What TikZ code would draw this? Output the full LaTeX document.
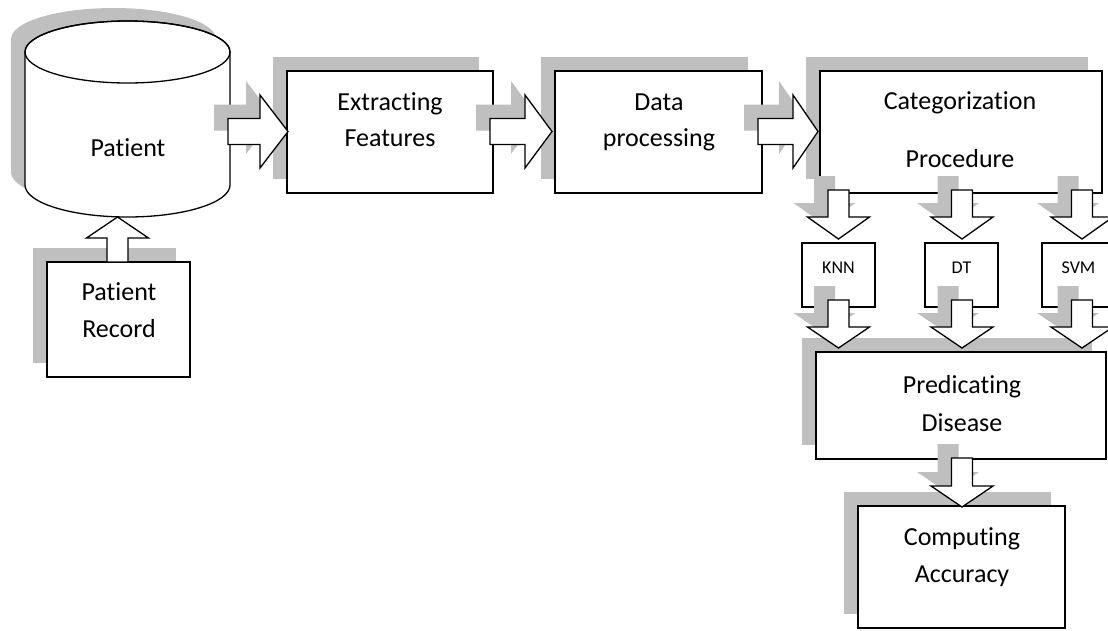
\documentclass[tikz,border=0pt]{standalone}
\usepackage{fontspec}
\setmainfont[Ligatures={NoCommon,NoContextual}]{Carlito}
\usetikzlibrary{shadows}
\newcommand\tI{t\kern0pt i}
\tikzset{
 shadowc/.style={fill=black!25},
 boxs/.style={draw, line width=1.3pt, fill=white, inner sep=0pt, outer sep=0pt, anchor=north west,
   drop shadow={shadow xshift=-14pt, shadow yshift=14pt, fill=black!25, opacity=1}},
 sbox/.style={draw, line width=1.3pt, fill=white, inner sep=0pt, outer sep=0pt, anchor=north west},
 lbl/.style={anchor=base, inner sep=0pt, font=\fontsize{26}{30}\selectfont},
 slbl/.style={anchor=base, inner sep=0pt, font=\fontsize{18}{22}\selectfont},
 arrbody/.style={draw, line width=1.3pt, fill=white, line join=miter},
}
% horizontal block arrow: start x, head base x, tip x, centre y
\newcommand\RArrPath[4]{(#1,#4-13) -- (#2,#4-13) -- (#2,#4-36.5) -- (#3,#4) -- (#2,#4+36.5) -- (#2,#4+13) -- (#1,#4+13) -- cycle}
% vertical block arrow: centre x, start y, head base y, tip y
\newcommand\VArrPath[4]{(#1-10.5,#2) -- (#1+10.5,#2) -- (#1+10.5,#3) -- (#1+31,#3) -- (#1,#4) -- (#1-31,#3) -- (#1-10.5,#3) -- cycle}
\newcommand\RArrow[4]{\fill[shadowc, shift={(-14,-14)}] \RArrPath{#1}{#2}{#3}{#4}; \draw[arrbody] \RArrPath{#1}{#2}{#3}{#4};}
\newcommand\DArrow[4]{\fill[shadowc, shift={(-14,-14)}] \VArrPath{#1}{#2}{#3}{#4}; \draw[arrbody] \VArrPath{#1}{#2}{#3}{#4};}
\newcommand\CylPath{(25,52) -- (25,185) arc[start angle=180, end angle=360, x radius=102.5pt, y radius=32pt] -- (230,52) arc[start angle=0, end angle=180, x radius=102.5pt, y radius=31pt] -- cycle}
\begin{document}
\begin{tikzpicture}[x=1pt, y=-1pt]
\useasboundingbox (0,0) rectangle (1108,630);
% cylinder
\fill[shadowc, shift={(-14,-13)}] \CylPath;
\draw[line width=1.3pt, fill=white] \CylPath;
\draw[line width=1.3pt] (127.5,52) ellipse [x radius=102.5pt, y radius=31pt];
\node[lbl] (pat) at (128,156) {Pa\tI ent};
% boxes
\node[boxs, minimum width=143pt, minimum height=115pt] (rec) at (47,262) {};
\node[boxs, minimum width=206pt, minimum height=122pt] (ext) at (287,71) {};
\node[boxs, minimum width=207pt, minimum height=122pt] (dat) at (555,71) {};
\node[boxs, minimum width=282pt, minimum height=122pt] (cat) at (820,71) {};
\node[sbox, minimum width=73pt, minimum height=64pt] (knn) at (802,243) {};
\node[sbox, minimum width=73pt, minimum height=64pt] (dt) at (925,243) {};
\node[sbox, minimum width=73pt, minimum height=64pt] (svm) at (1042,243) {};
\node[boxs, minimum width=290pt, minimum height=107pt] (pred) at (816,352) {};
\node[boxs, minimum width=207pt, minimum height=122pt] (comp) at (858,506) {};
% labels
\node[lbl] (rec1) at (119,300) {Pa\tI ent};
\node[lbl] (rec2) at (119,337) {Record};
\node[lbl] (ext1) at (390,110) {Extrac\tI ng};
\node[lbl] (ext2) at (390,146) {Features};
\node[lbl] (dat1) at (659,110) {Data};
\node[lbl] (dat2) at (659,146) {processing};
\node[lbl] (cat1) at (960,109) {Categoriza\tI on};
\node[lbl] (cat2) at (960,167) {Procedure};
\node[slbl] (knnl) at (838.5,273) {KNN};
\node[slbl] (dtl) at (961.5,273) {DT};
\node[slbl] (svml) at (1078.5,273) {SVM};
\node[lbl] (pred1) at (962,393) {Predica\tI ng};
\node[lbl] (pred2) at (962,431) {Disease};
\node[lbl] (comp1) at (962,545) {Compu\tI ng};
\node[lbl] (comp2) at (962,582) {Accuracy};
% block arrows
\draw[arrbody] \VArrPath{117.5}{262}{238}{217};
\RArrow{228}{260}{288}{131.5}
\RArrow{490}{525}{552}{131.5}
\RArrow{758}{793}{818}{131.5}
\DArrow{838.5}{190}{217}{239}
\DArrow{962}{190}{217}{239}
\DArrow{1082}{190}{217}{239}
\DArrow{838.5}{300}{327}{348}
\DArrow{962}{300}{327}{348}
\DArrow{1082}{300}{327}{348}
\DArrow{962}{458}{486}{507}
\end{tikzpicture}
\end{document}
